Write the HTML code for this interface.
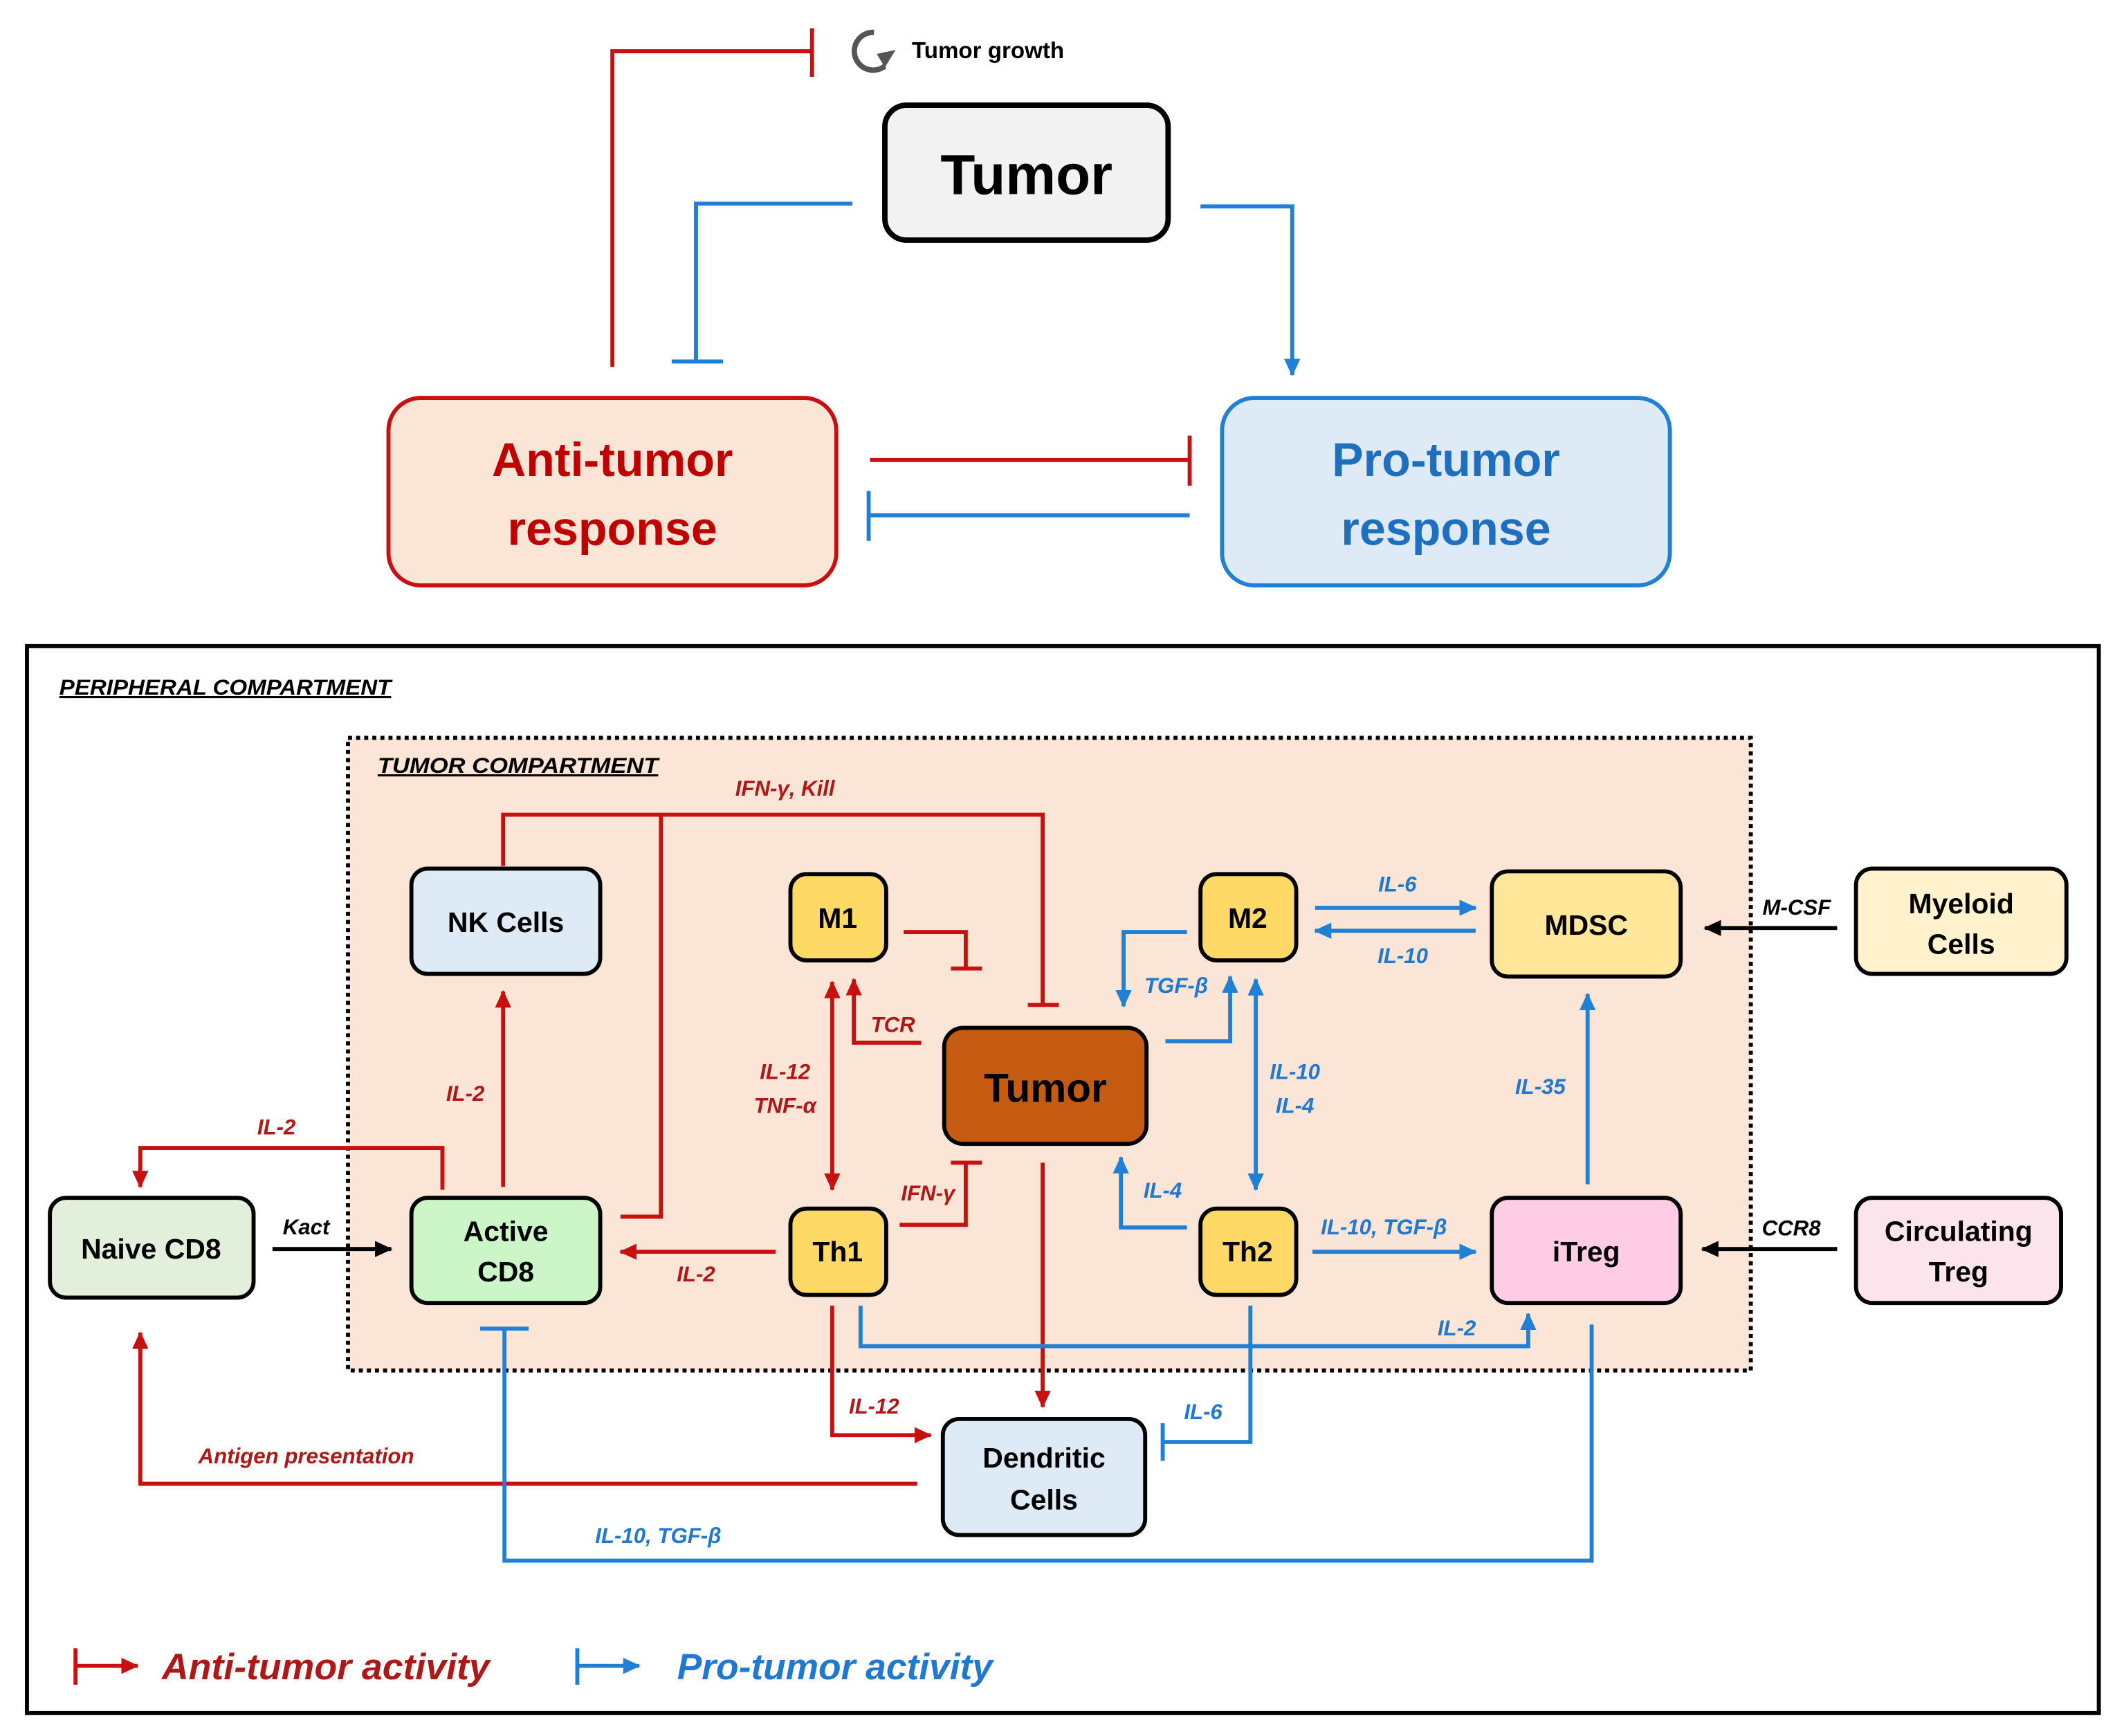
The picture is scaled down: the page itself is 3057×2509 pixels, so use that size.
<!DOCTYPE html>
<html><head><meta charset="utf-8"><style>
html,body{margin:0;padding:0;background:#fff;}
svg{display:block;}
text{font-family:"Liberation Sans",sans-serif;font-weight:bold;}
.n{font-size:21px;fill:#000;text-anchor:middle;}
.lr{font-size:16px;fill:#b01818;font-style:italic;text-anchor:middle;}
.lb{font-size:16px;fill:#1f78d1;font-style:italic;text-anchor:middle;}
.lk{font-size:16px;fill:#000;font-style:italic;text-anchor:middle;}
.r{stroke:#c81010;stroke-width:3;fill:none;}
.b{stroke:#1f80d6;stroke-width:3;fill:none;}
.k{stroke:#000;stroke-width:3;fill:none;}
</style></head><body>
<svg width="3057" height="2509" viewBox="0 0 1568 1287" preserveAspectRatio="none" xmlns="http://www.w3.org/2000/svg">
<defs>
<marker id="ar" markerUnits="userSpaceOnUse" markerWidth="14" markerHeight="12" refX="12" refY="6" orient="auto"><path d="M0,0 L13,6 L0,12 Z" fill="#c81010"/></marker>
<marker id="ab" markerUnits="userSpaceOnUse" markerWidth="14" markerHeight="12" refX="12" refY="6" orient="auto"><path d="M0,0 L13,6 L0,12 Z" fill="#1f80d6"/></marker>
<marker id="ak" markerUnits="userSpaceOnUse" markerWidth="14" markerHeight="12" refX="12" refY="6" orient="auto"><path d="M0,0 L13,6 L0,12 Z" fill="#000"/></marker>
<marker id="arS" markerUnits="userSpaceOnUse" markerWidth="14" markerHeight="12" refX="1" refY="6" orient="auto"><path d="M13,0 L0,6 L13,12 Z" fill="#c81010"/></marker>
<marker id="abS" markerUnits="userSpaceOnUse" markerWidth="14" markerHeight="12" refX="1" refY="6" orient="auto"><path d="M13,0 L0,6 L13,12 Z" fill="#1f80d6"/></marker>
</defs>

<!-- TOP -->
<path class="r" d="M454,272 V38 H602"/>
<line class="r" x1="602" y1="21" x2="602" y2="57"/>
<path d="M648,24 A14,14 0 1 0 656,49" stroke="#555" stroke-width="4" fill="none"/>
<path d="M650,40 L664,37 L656,50 Z" fill="#555"/>
<text x="676" y="43" style="font-size:17px" fill="#000">Tumor growth</text>
<rect x="656" y="78" width="210" height="100" rx="16" fill="#f2f2f2" stroke="#000" stroke-width="4"/>
<text x="761" y="144" style="font-size:42px;text-anchor:middle" fill="#000">Tumor</text>
<path class="b" d="M632,151 H516 V268"/>
<line class="b" x1="498" y1="268" x2="536" y2="268"/>
<path class="b" d="M890,153 H958 V278" marker-end="url(#ab)"/>
<rect x="288" y="295" width="332" height="139" rx="24" fill="#fbe5d6" stroke="#c81010" stroke-width="3"/>
<text x="454" y="353" style="font-size:35px;text-anchor:middle" fill="#c00000">Anti-tumor</text>
<text x="454" y="404" style="font-size:35px;text-anchor:middle" fill="#c00000">response</text>
<rect x="906" y="295" width="332" height="139" rx="24" fill="#deebf7" stroke="#1f80d6" stroke-width="3"/>
<text x="1072" y="353" style="font-size:35px;text-anchor:middle" fill="#1f6fc0">Pro-tumor</text>
<text x="1072" y="404" style="font-size:35px;text-anchor:middle" fill="#1f6fc0">response</text>
<line class="r" x1="645" y1="341" x2="882" y2="341"/>
<line class="r" x1="882" y1="323" x2="882" y2="360"/>
<line class="b" x1="882" y1="382" x2="644" y2="382"/>
<line class="b" x1="644" y1="364" x2="644" y2="401"/>

<!-- BOTTOM FRAME -->
<rect x="20" y="479" width="1536" height="791" fill="none" stroke="#000" stroke-width="3"/>
<text x="44" y="515" style="font-size:16px;font-style:italic;text-decoration:underline" fill="#000" textLength="246" lengthAdjust="spacingAndGlyphs">PERIPHERAL COMPARTMENT</text>
<rect x="258" y="547" width="1040" height="469" fill="#fbe5d6" stroke="#000" stroke-width="3" stroke-dasharray="3,3"/>
<text x="280" y="573" style="font-size:16px;font-style:italic;text-decoration:underline" fill="#000" textLength="208" lengthAdjust="spacingAndGlyphs">TUMOR COMPARTMENT</text>

<!-- edges -->
<path class="r" d="M373,642 V604 H773 V745"/>
<line class="r" x1="762" y1="745" x2="785" y2="745"/>
<path class="r" d="M460,902 H490 V604"/>
<text class="lr" x="582" y="590">IFN-γ, Kill</text>
<path class="r" d="M670,691 H716 V718"/>
<line class="r" x1="705" y1="718" x2="728" y2="718"/>
<path class="r" d="M683,773 H633 V726" marker-end="url(#ar)"/>
<text class="lr" x="662" y="765">TCR</text>
<line class="r" x1="617" y1="728" x2="617" y2="882" marker-start="url(#arS)" marker-end="url(#ar)"/>
<text class="lr" x="582" y="800">IL-12</text>
<text class="lr" x="582" y="825">TNF-α</text>
<path class="r" d="M667,908 H716 V862"/>
<line class="r" x1="705" y1="862" x2="728" y2="862"/>
<text class="lr" x="688" y="890">IFN-γ</text>
<line class="r" x1="575" y1="928" x2="460" y2="928" marker-end="url(#ar)"/>
<text class="lr" x="516" y="950">IL-2</text>
<line class="r" x1="373" y1="880" x2="373" y2="735" marker-end="url(#ar)"/>
<text class="lr" x="345" y="816">IL-2</text>
<path class="r" d="M328,882 V851 H104 V880" marker-end="url(#ar)"/>
<text class="lr" x="205" y="841">IL-2</text>
<line class="k" x1="202" y1="926" x2="290" y2="926" marker-end="url(#ak)"/>
<text class="lk" x="227" y="915">Kact</text>
<line class="r" x1="773" y1="862" x2="773" y2="1043" marker-end="url(#ar)"/>
<path class="r" d="M617,968 V1064 H690" marker-end="url(#ar)"/>
<text class="lr" x="648" y="1048">IL-12</text>
<path class="r" d="M680,1100 H104 V988" marker-end="url(#ar)"/>
<text class="lr" x="227" y="1085">Antigen presentation</text>
<path class="b" d="M638,968 V998 H1133 V974" marker-end="url(#ab)"/>
<text class="lb" x="1080" y="990">IL-2</text>
<path class="b" d="M927,968 V1069 H862"/>
<line class="b" x1="862" y1="1055" x2="862" y2="1083"/>
<text class="lb" x="892" y="1052">IL-6</text>
<path class="b" d="M1180,982 V1157 H374 V985"/>
<line class="b" x1="356" y1="985" x2="392" y2="985"/>
<text class="lb" x="488" y="1144">IL-10, TGF-β</text>
<line class="b" x1="973" y1="928" x2="1094" y2="928" marker-end="url(#ab)"/>
<text class="lb" x="1026" y="915">IL-10, TGF-β</text>
<path class="b" d="M880,910 H831 V858" marker-end="url(#ab)"/>
<text class="lb" x="862" y="888">IL-4</text>
<line class="b" x1="931" y1="726" x2="931" y2="882" marker-start="url(#abS)" marker-end="url(#ab)"/>
<text class="lb" x="960" y="800">IL-10</text>
<text class="lb" x="960" y="825">IL-4</text>
<path class="b" d="M880,691 H833 V746" marker-end="url(#ab)"/>
<text class="lb" x="872" y="736">TGF-β</text>
<path class="b" d="M864,772 H912 V724" marker-end="url(#ab)"/>
<line class="b" x1="975" y1="673" x2="1094" y2="673" marker-end="url(#ab)"/>
<line class="b" x1="1094" y1="690" x2="975" y2="690" marker-end="url(#ab)"/>
<text class="lb" x="1036" y="661">IL-6</text>
<text class="lb" x="1040" y="714">IL-10</text>
<line class="k" x1="1362" y1="688" x2="1264" y2="688" marker-end="url(#ak)"/>
<text class="lk" x="1332" y="678">M-CSF</text>
<line class="b" x1="1177" y1="878" x2="1177" y2="737" marker-end="url(#ab)"/>
<text class="lb" x="1142" y="811">IL-35</text>
<line class="k" x1="1362" y1="926" x2="1262" y2="926" marker-end="url(#ak)"/>
<text class="lk" x="1328" y="916">CCR8</text>

<!-- nodes -->
<rect x="305" y="644" width="140" height="78" rx="12" fill="#deebf7" stroke="#000" stroke-width="3"/>
<text class="n" x="375" y="691">NK Cells</text>
<rect x="586" y="648" width="71" height="64" rx="12" fill="#ffd966" stroke="#000" stroke-width="3"/>
<text class="n" x="621" y="688">M1</text>
<rect x="890" y="648" width="71" height="64" rx="12" fill="#ffd966" stroke="#000" stroke-width="3"/>
<text class="n" x="925" y="688">M2</text>
<rect x="1106" y="646" width="140" height="78" rx="12" fill="#ffe699" stroke="#000" stroke-width="3"/>
<text class="n" x="1176" y="693">MDSC</text>
<rect x="1376" y="644" width="156" height="78" rx="12" fill="#fff2cc" stroke="#000" stroke-width="3"/>
<text class="n" x="1454" y="677">Myeloid</text>
<text class="n" x="1454" y="707">Cells</text>
<rect x="700" y="762" width="150" height="86" rx="14" fill="#c55a11" stroke="#000" stroke-width="3"/>
<text x="775" y="817" style="font-size:30px;text-anchor:middle" fill="#000">Tumor</text>
<rect x="37" y="888" width="151" height="74" rx="12" fill="#e2efda" stroke="#000" stroke-width="3"/>
<text class="n" x="112" y="933">Naive CD8</text>
<rect x="305" y="888" width="140" height="78" rx="12" fill="#ccf5c8" stroke="#000" stroke-width="3"/>
<text class="n" x="375" y="920">Active</text>
<text class="n" x="375" y="950">CD8</text>
<rect x="586" y="896" width="71" height="64" rx="12" fill="#ffd966" stroke="#000" stroke-width="3"/>
<text class="n" x="621" y="935">Th1</text>
<rect x="890" y="896" width="71" height="64" rx="12" fill="#ffd966" stroke="#000" stroke-width="3"/>
<text class="n" x="925" y="935">Th2</text>
<rect x="1106" y="888" width="140" height="78" rx="12" fill="#ffcce5" stroke="#000" stroke-width="3"/>
<text class="n" x="1176" y="935">iTreg</text>
<rect x="1376" y="888" width="152" height="78" rx="12" fill="#fce4ec" stroke="#000" stroke-width="3"/>
<text class="n" x="1452" y="920">Circulating</text>
<text class="n" x="1452" y="950">Treg</text>
<rect x="699" y="1052" width="150" height="86" rx="12" fill="#deebf7" stroke="#000" stroke-width="3"/>
<text class="n" x="774" y="1088">Dendritic</text>
<text class="n" x="774" y="1119">Cells</text>

<!-- legend -->
<line class="r" x1="56" y1="1222" x2="56" y2="1249"/>
<line class="r" x1="56" y1="1235" x2="102" y2="1235" marker-end="url(#ar)"/>
<text x="120" y="1245" style="font-size:27px;font-style:italic" fill="#b01818" textLength="243" lengthAdjust="spacingAndGlyphs">Anti-tumor activity</text>
<line class="b" x1="428" y1="1222" x2="428" y2="1249"/>
<line class="b" x1="428" y1="1235" x2="474" y2="1235" marker-end="url(#ab)"/>
<text x="502" y="1245" style="font-size:27px;font-style:italic" fill="#1f78d1" textLength="234" lengthAdjust="spacingAndGlyphs">Pro-tumor activity</text>
</svg>
</body></html>
